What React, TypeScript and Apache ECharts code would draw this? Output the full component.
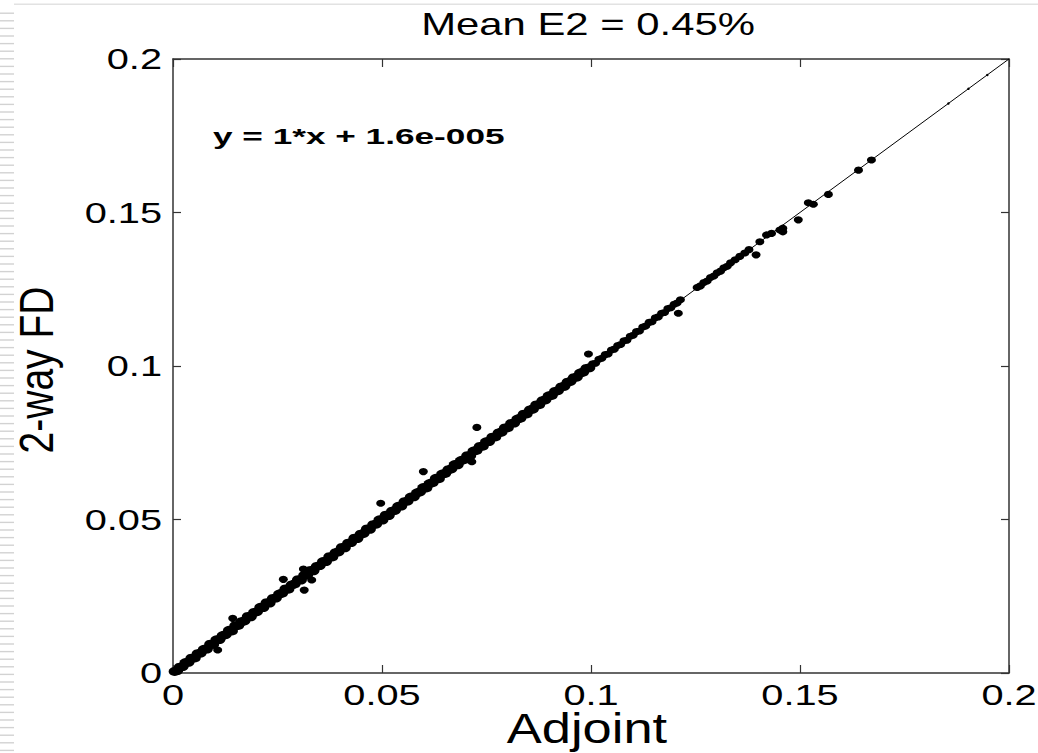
import React, { useEffect, useRef } from "react";
import * as echarts from "echarts";

const titleText = "Mean E2 = 0.45%";
const xAxisName = "Adjoint";
const yAxisName = "2-way FD";
const fitText = "y = 1*x + 1.6e-005";

const xTickValues = [0, 0.05, 0.1, 0.15, 0.2];
const xTickLabels = ["0", "0.05", "0.1", "0.15", "0.2"];
const yTickValues = [0, 0.05, 0.1, 0.15, 0.2];
const yTickLabels = ["0", "0.05", "0.1", "0.15", "0.2"];

// fitted line y = 1*x + 1.6e-5
const fitLine = [
  [0, 0.000016],
  [0.2, 0.200016],
];

// dense lower band of points along the diagonal
const lowerBand = [
  [0.0004, 0.0005], [0.001, 0.0008], [0.0016, 0.0019], [0.0023, 0.0021], [0.003, 0.0034],
  [0.0037, 0.0035], [0.0044, 0.0048], [0.0052, 0.0049], [0.0059, 0.0063], [0.0066, 0.0065],
  [0.0074, 0.0077], [0.0081, 0.0078], [0.0089, 0.0094], [0.0096, 0.0093], [0.0104, 0.0108],
  [0.0111, 0.0109], [0.0119, 0.0122], [0.0126, 0.0125], [0.0134, 0.0139], [0.0141, 0.0137],
  [0.0149, 0.0154], [0.0156, 0.0155], [0.0164, 0.0167], [0.0171, 0.0170], [0.0179, 0.0184],
  [0.0186, 0.0183], [0.0194, 0.0197], [0.0201, 0.0200], [0.0209, 0.0214], [0.0216, 0.0213],
  [0.0224, 0.0229], [0.0231, 0.0228], [0.0239, 0.0243], [0.0246, 0.0244], [0.0254, 0.0257],
  [0.0261, 0.0260], [0.0269, 0.0274], [0.0276, 0.0273], [0.0284, 0.0287], [0.0291, 0.0290],
  [0.0299, 0.0304], [0.0306, 0.0303], [0.0314, 0.0318], [0.0321, 0.0319], [0.0329, 0.0334],
  [0.0336, 0.0333], [0.0344, 0.0347], [0.0351, 0.0350], [0.0359, 0.0363], [0.0366, 0.0363],
  [0.0374, 0.0379], [0.0381, 0.0378], [0.0389, 0.0392], [0.0396, 0.0395], [0.0404, 0.0409],
  [0.0411, 0.0408], [0.0419, 0.0423], [0.0426, 0.0425], [0.0434, 0.0439], [0.0441, 0.0438],
  [0.0449, 0.0452], [0.0456, 0.0455], [0.0464, 0.0469], [0.0471, 0.0468], [0.0479, 0.0483],
  [0.0486, 0.0485], [0.0494, 0.0499], [0.0501, 0.0498], [0.0509, 0.0514], [0.0516, 0.0513],
  [0.0524, 0.0527], [0.0531, 0.0530], [0.0539, 0.0543], [0.0546, 0.0544], [0.0554, 0.0558],
  [0.0561, 0.0560], [0.0569, 0.0573], [0.0576, 0.0574], [0.0584, 0.0587], [0.0591, 0.0590],
  [0.0599, 0.0604], [0.0606, 0.0603], [0.0614, 0.0617], [0.0621, 0.0620], [0.0629, 0.0634],
  [0.0636, 0.0633], [0.0644, 0.0648], [0.0651, 0.0650], [0.0659, 0.0662], [0.0666, 0.0665],
  [0.0674, 0.0679], [0.0681, 0.0678], [0.0689, 0.0692], [0.0696, 0.0695], [0.0704, 0.0708],
  [0.0711, 0.0708], [0.0719, 0.0723], [0.0726, 0.0725], [0.0734, 0.0738], [0.0741, 0.0739],
  [0.0749, 0.0753], [0.0756, 0.0754], [0.0764, 0.0768], [0.0771, 0.0769], [0.0779, 0.0782],
  [0.0786, 0.0785], [0.0794, 0.0798], [0.0801, 0.0799], [0.0809, 0.0813], [0.0816, 0.0814],
  [0.0824, 0.0827], [0.0831, 0.0830], [0.0839, 0.0843], [0.0846, 0.0844], [0.0854, 0.0857],
  [0.0861, 0.0860], [0.0869, 0.0873], [0.0876, 0.0874], [0.0884, 0.0887], [0.0891, 0.0890],
  [0.0899, 0.0903], [0.0906, 0.0904], [0.0914, 0.0917], [0.0921, 0.0920], [0.0929, 0.0932],
  [0.0936, 0.0934], [0.0944, 0.0947], [0.0951, 0.0950], [0.0959, 0.0962], [0.0966, 0.0964],
  [0.0974, 0.0977], [0.0981, 0.0980], [0.0989, 0.0992], [0.0996, 0.0994],
];

// thinner upper band
const upperBand = [
  [0.1004, 0.1007], [0.1011, 0.1009], [0.1019, 0.1022], [0.1026, 0.1025], [0.1034, 0.1037],
  [0.1041, 0.1039], [0.1049, 0.1052], [0.1056, 0.1055], [0.1064, 0.1067], [0.1071, 0.1070],
  [0.1079, 0.1082], [0.1086, 0.1084], [0.1094, 0.1097], [0.1101, 0.1100], [0.1109, 0.1112],
  [0.1116, 0.1114], [0.1124, 0.1127], [0.1131, 0.1130], [0.1139, 0.1142], [0.1146, 0.1144],
  [0.1154, 0.1157], [0.1161, 0.1160], [0.1169, 0.1172], [0.1176, 0.1174], [0.1184, 0.1187],
  [0.1191, 0.1190], [0.1199, 0.1201], [0.1206, 0.1205], [0.1214, 0.1216], [0.1254, 0.1256],
  [0.1262, 0.1261], [0.127, 0.1272], [0.1278, 0.1277], [0.1286, 0.1288], [0.1294, 0.1293],
  [0.1302, 0.1304], [0.131, 0.1309], [0.1318, 0.132], [0.1326, 0.1325], [0.1334, 0.1336],
  [0.1345, 0.1346], [0.1356, 0.1357], [0.1368, 0.1368], [0.1378, 0.1379],
];

// scattered points off the band and in the sparse upper part
const outlierPoints = [
  [0.0107, 0.0075], [0.0143, 0.0178], [0.0264, 0.0305], [0.0314, 0.027], [0.0332, 0.0303],
  [0.0312, 0.0339], [0.0497, 0.0553], [0.0599, 0.0656], [0.0715, 0.0688], [0.0727, 0.08],
  [0.0994, 0.1039], [0.1209, 0.1172], [0.1395, 0.1362], [0.1404, 0.1405], [0.142, 0.1427],
  [0.1432, 0.1432], [0.1452, 0.1443], [0.1459, 0.1449], [0.1459, 0.1437], [0.1496, 0.1476],
  [0.152, 0.1532], [0.1532, 0.1527], [0.1568, 0.1559], [0.164, 0.1638], [0.1671, 0.1671],
];

// tiny points sitting on the line near the top right
const tinyPoints = [
  [0.1855, 0.1855], [0.1903, 0.1903], [0.1948, 0.1948],
];

const FONT = "'Liberation Sans', Arial, sans-serif";

export default function App() {
  const ref = useRef<HTMLDivElement>(null);

  useEffect(() => {
    if (!ref.current) return;
    const chart = echarts.init(ref.current, null, { renderer: "svg" });

    const axisCommon = {
      type: "value",
      min: 0,
      max: 0.2,
      interval: 0.05,
      axisLine: { show: true, onZero: false, lineStyle: { color: "#333", width: 1.5 } },
      axisTick: { show: true, inside: true, length: 8, lineStyle: { color: "#333", width: 1.2 } },
      axisLabel: { show: false },
      splitLine: { show: false },
    };

    const dotStyle = { color: "#000", opacity: 1 };

    chart.setOption({
      animation: false,
      backgroundColor: "#fff",
      grid: { left: 173, top: 59, width: 836, height: 614, containLabel: false },
      xAxis: [
        { ...axisCommon, position: "bottom" },
        { ...axisCommon, position: "top" },
      ],
      yAxis: [
        { ...axisCommon, position: "left" },
        { ...axisCommon, position: "right" },
      ],
      series: [
        {
          type: "line",
          data: fitLine,
          symbol: "none",
          lineStyle: { color: "#000", width: 1 },
          z: 1,
          silent: true,
        },
        {
          type: "scatter",
          data: lowerBand,
          symbol: "circle",
          symbolSize: [12, 9],
          itemStyle: dotStyle,
          z: 2,
        },
        {
          type: "scatter",
          data: upperBand,
          symbol: "circle",
          symbolSize: [9, 7],
          itemStyle: dotStyle,
          z: 2,
        },
        {
          type: "scatter",
          data: outlierPoints,
          symbol: "circle",
          symbolSize: [9, 7],
          itemStyle: dotStyle,
          z: 2,
        },
        {
          type: "scatter",
          data: tinyPoints,
          symbol: "circle",
          symbolSize: 2.5,
          itemStyle: dotStyle,
          z: 2,
        },
      ],
    });

    const px = (v: number) => chart.convertToPixel({ xAxisIndex: 0 }, v) as number;
    const py = (v: number) => chart.convertToPixel({ yAxisIndex: 0 }, v) as number;
    const x0 = px(0);
    const x1 = px(0.2);
    const y0 = py(0);
    const y1 = py(0.2);
    const cx = (x0 + x1) / 2;
    const cy = (y0 + y1) / 2;

    const graphics: any[] = [];

    // slide decoration: left striped edge and top rule
    for (let yy = 12.5; yy < 753; yy += 7.6) {
      graphics.push({
        type: "rect",
        shape: { x: 0, y: yy, width: 14, height: 1.4 },
        style: { fill: "#d2d2d2" },
        silent: true,
      });
    }
    graphics.push({
      type: "rect",
      shape: { x: 14, y: 3.5, width: 1024, height: 1.4 },
      style: { fill: "#e2e2e2" },
      silent: true,
    });

    const txt = (
      text: string,
      x: number,
      y: number,
      size: number,
      align: string,
      sx: number,
      bold = false
    ) => ({
      type: "text",
      x,
      y,
      scaleX: sx,
      style: {
        text,
        fill: "#000",
        fontFamily: FONT,
        fontSize: size,
        fontWeight: bold ? "bold" : "normal",
        textAlign: align,
        textVerticalAlign: "middle",
        align,
        verticalAlign: "middle",
      },
    });

    xTickValues.forEach((v, i) => {
      graphics.push(txt(xTickLabels[i], px(v), 694.5, 29, "center", 1.37));
    });
    yTickValues.forEach((v, i) => {
      graphics.push(txt(yTickLabels[i], 162, py(v), 29, "right", 1.37));
    });

    graphics.push(txt(titleText, cx - 3, 24.5, 31, "center", 1.35));
    graphics.push(txt(xAxisName, cx - 4, 728, 43, "center", 1.22));
    graphics.push({
      type: "text",
      x: 35.5,
      y: cy + 4,
      rotation: Math.PI / 2,
      scaleY: 1.25,
      style: {
        text: yAxisName,
        fill: "#000",
        fontFamily: FONT,
        fontSize: 39,
        textAlign: "center",
        textVerticalAlign: "middle",
        align: "center",
        verticalAlign: "middle",
      },
    });
    graphics.push(txt(fitText, 213, 136, 22, "left", 1.6, true));

    chart.setOption({ graphic: graphics });

    return () => chart.dispose();
  }, []);

  return (
    <div
      ref={ref}
      style={{ position: "fixed", left: 0, top: 0, width: 1038, height: 753, background: "#fff" }}
    />
  );
}
